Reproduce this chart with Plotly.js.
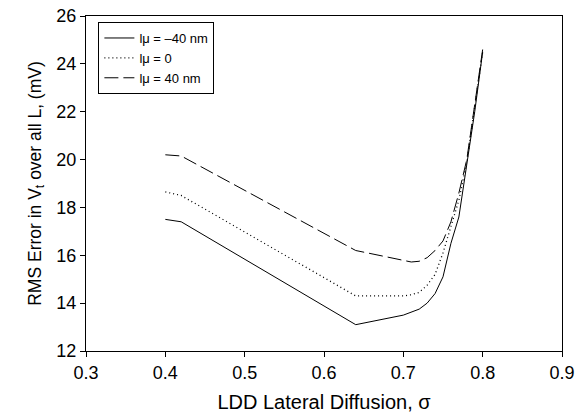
<!DOCTYPE html>
<html><head><meta charset="utf-8">
<script src="https://cdn.plot.ly/plotly-3.0.1.min.js"></script>
<style>html,body{margin:0;padding:0;background:#fff}#c{width:584px;height:419px}</style>
</head><body><div id="c"></div>
<script>
const names = ["lμ = \u201340 nm", "lμ = 0", "lμ = 40 nm"];
const xSolid = [0.40,0.42,0.64,0.67,0.70,0.72,0.73,0.74,0.75,0.76,0.77,0.78,0.79,0.80];
const ySolid = [17.5,17.4,13.1,13.3,13.5,13.75,14.0,14.4,15.1,16.5,17.6,19.8,22.0,24.5];
const xDot = [0.40,0.42,0.64,0.70,0.71,0.72,0.73,0.74,0.75,0.76,0.77,0.78,0.79,0.80];
const yDot = [18.65,18.5,14.3,14.3,14.35,14.45,14.75,15.2,16.1,17.2,18.3,19.9,22.2,24.5];
const xDash = [0.40,0.42,0.64,0.67,0.71,0.72,0.73,0.74,0.75,0.76,0.77,0.78,0.79,0.80];
const yDash = [20.2,20.15,16.2,16.0,15.72,15.75,15.9,16.2,16.6,17.4,18.6,20.0,22.2,24.6];
const xTicks = [0.3,0.4,0.5,0.6,0.7,0.8,0.9];
const yTicks = [12,14,16,18,20,22,24,26];

const traces = [
  {x:xSolid,y:ySolid,name:names[0],mode:"lines",line:{color:"#000",width:1,dash:"solid"}},
  {x:xDot,y:yDot,name:names[1],mode:"lines",line:{color:"#000",width:1.3,dash:"1px,3px"}},
  {x:xDash,y:yDash,name:names[2],mode:"lines",line:{color:"#000",width:1,dash:"14px,5px"}}
];
const fontFam = "Liberation Sans, Arial, sans-serif";
const layout = {
  width:584,height:419,
  margin:{l:86,r:22,t:16,b:68},
  paper_bgcolor:"#fff",plot_bgcolor:"#fff",
  font:{family:fontFam,color:"#000"},
  showlegend:true,
  legend:{x:0.026,y:0.982,xanchor:"left",yanchor:"top",bordercolor:"#000",borderwidth:1,
    font:{size:13,family:fontFam},tracegroupgap:0,itemwidth:30,bgcolor:"#fff"},
  xaxis:{range:[0.3,0.9],tickvals:xTicks,ticktext:xTicks.map(v=>v.toFixed(1)),
    ticks:"outside",ticklen:5,tickcolor:"#000",showgrid:false,zeroline:false,
    showline:true,linecolor:"#000",linewidth:1,mirror:true,
    tickfont:{size:18,family:fontFam},
    title:{text:"LDD Lateral Diffusion, σ",font:{size:20,family:fontFam},standoff:13}},
  yaxis:{range:[12,26],tickvals:yTicks,
    ticks:"outside",ticklen:5,tickcolor:"#000",showgrid:false,zeroline:false,
    showline:true,linecolor:"#000",linewidth:1,mirror:true,
    tickfont:{size:18,family:fontFam},
    title:{text:"RMS Error in V<sub>t</sub> over all L, (mV)",font:{size:17.5,family:fontFam},standoff:10}}
};
Plotly.newPlot("c",traces,layout,{staticPlot:true,displayModeBar:false});
</script></body></html>
